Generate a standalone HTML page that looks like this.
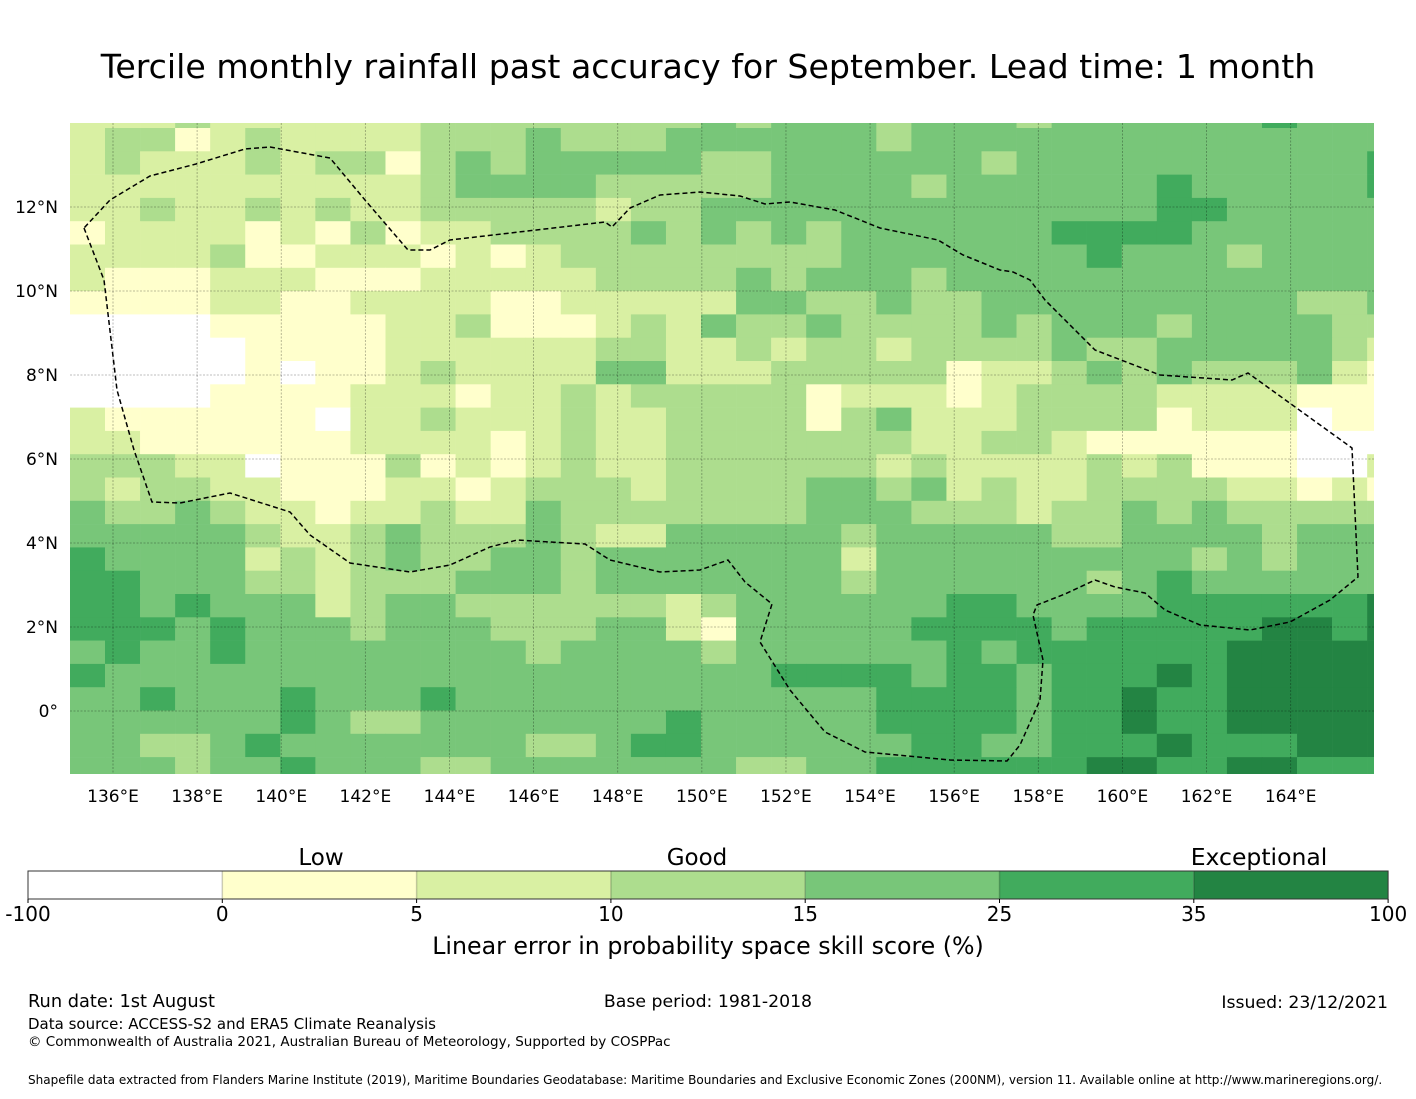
<!DOCTYPE html>
<html><head><meta charset="utf-8"><style>
body{margin:0;background:#fff;width:1416px;height:1095px;overflow:hidden;font-family:"DejaVu Sans","Liberation Sans",sans-serif;}
svg text{font-family:"DejaVu Sans","Liberation Sans",sans-serif;fill:#000}
</style></head><body>
<svg id="chart" width="1416" height="1095" xmlns="http://www.w3.org/2000/svg">
<text x="708" y="78" font-size="33.2" text-anchor="middle">Tercile monthly rainfall past accuracy for September. Lead time: 1 month</text>
<g id="map"></g>
<g id="xticks"></g>
<g id="yticks"></g>
<g id="cbar"></g>
<text x="321" y="865" font-size="23" text-anchor="middle">Low</text>
<text x="697" y="865" font-size="23" text-anchor="middle">Good</text>
<text x="1259" y="865" font-size="23.5" text-anchor="middle">Exceptional</text>
<text x="708" y="954" font-size="23.7" text-anchor="middle">Linear error in probability space skill score (%)</text>
<text x="28" y="1007" font-size="17.8">Run date: 1st August</text>
<text x="708" y="1007" font-size="17.3" text-anchor="middle">Base period: 1981-2018</text>
<text x="1388" y="1008" font-size="17.3" text-anchor="end">Issued: 23/12/2021</text>
<text x="28" y="1029" font-size="15">Data source: ACCESS-S2 and ERA5 Climate Reanalysis</text>
<text x="28" y="1046" font-size="13.5">© Commonwealth of Australia 2021, Australian Bureau of Meteorology, Supported by COSPPac</text>
<text x="28" y="1084" font-size="12.05">Shapefile data extracted from Flanders Marine Institute (2019), Maritime Boundaries Geodatabase: Maritime Boundaries and Exclusive Economic Zones (200NM), version 11. Available online at http://www.marineregions.org/.</text>
</svg>
<script>
const colors=["#ffffff","#ffffcc","#d9f0a3","#addd8e","#78c679","#41ab5d","#238443"];
const binEdges=["-100","0","5","10","15","25","35","100"];
const lonTicks=[136,138,140,142,144,146,148,150,152,154,156,158,160,162,164];
const latTicks=[12,10,8,6,4,2,0];
const gridRows=[
"2223222222333"+"333334344434"+"4434444445444",
"2331232222333"+"433344444434"+"4444444444444",
"2322232331343"+"444443344444"+"4344444444445",
"2222222222344"+"443333344443"+"4444445444445",
"2232232322333"+"332334444444"+"4444445544444",
"1222212131223"+"333434343444"+"4445555444444",
"2222311222121"+"233333333444"+"4444544434444",
"2111222111222"+"223333434443"+"4444444444444",
"1111221122221"+"122222443343"+"3444444444334",
"0000111112231"+"112324334333"+"3434443444433",
"0000011112222"+"223322323323"+"3334334444432",
"0000010112322"+"224422233333"+"1223434333421",
"0000111122212"+"232333331222"+"1233332222111",
"2111111022322"+"232233331342"+"2233331222011",
"2211111122221"+"232233333332"+"2332111111000",
"3332201113121"+"232233333323"+"2222323111002",
"3233221112212"+"333233334434"+"2322333322121",
"4334322122322"+"433333334443"+"3323343433333",
"4444432234333"+"432244444344"+"4443344443444",
"5444423234334"+"434444444244"+"4444444343444",
"5544433233344"+"434444444344"+"4444345444444",
"5545444234433"+"333323444444"+"5544445555556",
"5554544434443"+"334421444445"+"5554555556656",
"4544544444444"+"344443444444"+"5455555566666",
"5444444444444"+"444444455554"+"5545556566666",
"4454445444544"+"444444444455"+"5545565566666",
"4444445433444"+"444454444455"+"5545565566666",
"4433454444444"+"334554444445"+"5445556555666",
"4443445444334"+"444444334455"+"5555665566555"];
const X0=70,X1=1374,Y0=123,Y1=774,CW=35.06,RH=23.3,CX1=105,RY1=128;
const lonX=l=>113+(l-136)*42.06;
const latY=l=>207+(12-l)*42.0;
function cx(c){return c===0?X0:CX1+CW*(c-1);}
function cxe(c){return c===37?X1:CX1+CW*c;}
function ry(r){return r===0?Y0:RY1+RH*(r-1);}
function rye(r){return r===28?Y1:RY1+RH*r;}
const NS="http://www.w3.org/2000/svg";
function mk(tag,attrs,parent){const e=document.createElementNS(NS,tag);for(const k in attrs)e.setAttribute(k,attrs[k]);parent.appendChild(e);return e;}
const map=document.getElementById('map');
gridRows.forEach((row,r)=>{
  for(let c=0;c<row.length;c++){
    const v=+row[c];
    const x=cx(c),y=ry(r);
    const el=mk('rect',{x:x.toFixed(2),y:y.toFixed(2),width:(Math.min(cxe(c),X1)-x+(c===37?0:0.3)).toFixed(2),height:(rye(r)-y+(r===28?0:0.3)).toFixed(2),fill:colors[v]},map);
    
    
  }
});
lonTicks.forEach(l=>{const e=mk('line',{x1:lonX(l),x2:lonX(l),y1:Y0,y2:Y1,stroke:'#000','stroke-opacity':0.35,'stroke-width':0.8,'stroke-dasharray':'2,1.5'},map);

});
latTicks.forEach(l=>{const e=mk('line',{x1:X0,x2:X1,y1:latY(l),y2:latY(l),stroke:'#000','stroke-opacity':0.35,'stroke-width':0.8,'stroke-dasharray':'2,1.5'},map);

});
const eez="84,228 104,280 117,390 134,450 152,502 180,503 230,493 290,512 310,535 350,563 410,572 450,565 490,547 517,540 550,542 585,544 610,560 660,572 700,570 728,560 745,582 772,604 760,642 790,690 825,732 865,752 950,760 1007,761 1020,745 1040,700 1043,660 1033,615 1037,605 1065,594 1095,580 1115,587 1145,593 1165,610 1200,625 1250,630 1290,622 1330,600 1358,577 1352,448 1248,373 1232,380 1160,375 1095,350 1045,300 1030,280 1013,272 1000,270 963,255 938,240 880,228 835,210 790,202 765,204 740,196 700,192 660,195 630,208 612,227 605,222 450,240 430,250 408,250 365,200 330,158 270,147 245,149 196,164 150,176 110,200 84,228";
const b=mk('polyline',{points:eez,fill:'none',stroke:'#000','stroke-width':1.5,'stroke-dasharray':'5,3'},map);


const xt=document.getElementById('xticks');
lonTicks.forEach(l=>{const t=mk('text',{x:lonX(l),y:802,'font-size':17,'text-anchor':'middle'},xt);t.textContent=l+'°E';

});
const yt=document.getElementById('yticks');
latTicks.forEach(l=>{const t=mk('text',{x:58,y:latY(l)+6,'font-size':17,'text-anchor':'end'},yt);t.textContent=l===0?'0°':l+'°N';

});
const cb=document.getElementById('cbar');
const CB0=28,CBW=194.3,CBY=871,CBH=28;
colors.forEach((col,i)=>{const r=mk('rect',{x:CB0+i*CBW,y:CBY,width:CBW,height:CBH,fill:col},cb);


if(i>0){mk('line',{x1:CB0+i*CBW,x2:CB0+i*CBW,y1:CBY,y2:CBY+CBH,stroke:'#000','stroke-opacity':0.2,'stroke-width':1.5},cb);}});
mk('rect',{x:CB0,y:CBY,width:CBW*7,height:CBH,fill:'none',stroke:'#333','stroke-width':1},cb);
binEdges.forEach((e,i)=>{const x=CB0+i*CBW;mk('line',{x1:x,x2:x,y1:CBY+CBH,y2:CBY+CBH+4,stroke:'#000'},cb);
const t=mk('text',{x:x,y:921,'font-size':20,'text-anchor':'middle'},cb);t.textContent=e;

});
</script>
</body></html>
